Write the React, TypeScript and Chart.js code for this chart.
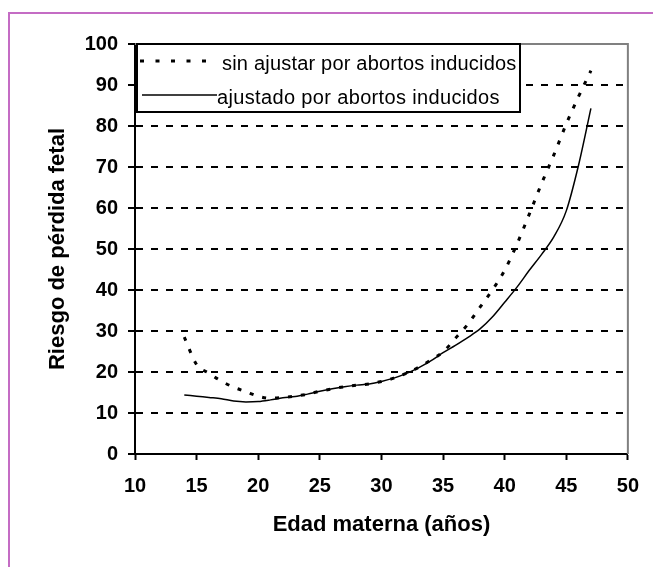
import React, { useEffect, useRef } from "react";
import { Chart, registerables } from "chart.js";

Chart.register(...registerables);

// ---- data ----
const ages = [14, 15, 16, 17, 18, 19, 20, 21, 22, 23, 24, 25, 26, 27, 28, 29, 30, 31, 32, 33, 34, 35, 36, 37, 38, 39, 40, 41, 42, 43, 44, 45, 46, 47];
const unadjusted = [28.5, 21.8, 19.7, 17.8, 16.3, 15.2, 14.1, 13.6, 13.8, 14.1, 14.6, 15.3, 15.9, 16.4, 16.8, 17.1, 17.7, 18.5, 19.7, 21.1, 22.9, 24.9, 28.2, 31.6, 35.8, 40, 44.8, 51.2, 58.5, 66, 73, 80.5, 87.2, 93.5];
const adjusted = [14.4, 14.1, 13.8, 13.5, 12.9, 12.7, 12.8, 13.2, 13.7, 14.0, 14.6, 15.3, 15.9, 16.4, 16.8, 17.1, 17.7, 18.5, 19.6, 21.0, 22.7, 24.7, 26.5, 28.4, 30.5, 33.4, 37, 40.7, 44.8, 48.7, 53, 59.3, 70.5, 84.3];
const xTicks = [10, 15, 20, 25, 30, 35, 40, 45, 50];
const yTicks = [0, 10, 20, 30, 40, 50, 60, 70, 80, 90, 100];
const legendLabels = ["sin ajustar por abortos inducidos", "ajustado por abortos inducidos"];
const xTitle = "Edad materna (años)";
const yTitle = "Riesgo de pérdida fetal";

const FONT = '"Liberation Sans", Arial, sans-serif';

const framePlugin = {
  id: "frameAndLegend",
  beforeDraw(chart: any) {
    const ctx = chart.ctx;
    ctx.save();
    ctx.fillStyle = "#ffffff";
    ctx.fillRect(0, 0, chart.width, chart.height);
    ctx.strokeStyle = "#c46cc4";
    ctx.lineWidth = 2;
    ctx.beginPath();
    ctx.moveTo(9, chart.height);
    ctx.lineTo(9, 13);
    ctx.lineTo(chart.width, 13);
    ctx.stroke();
    ctx.restore();
  },
  afterDatasetsDraw(chart: any) {
    const ctx = chart.ctx;
    const { left, top, right, bottom } = chart.chartArea;
    ctx.save();
    // plot area top/right border (gray)
    ctx.strokeStyle = "#808080";
    ctx.lineWidth = 2;
    ctx.beginPath();
    ctx.moveTo(left, top);
    ctx.lineTo(right, top);
    ctx.lineTo(right, bottom);
    ctx.stroke();

    // legend box
    const bx = left + 2;
    const by = top;
    const bw = 383;
    const bh = 68;
    ctx.fillStyle = "#ffffff";
    ctx.fillRect(bx, by, bw, bh);
    ctx.strokeStyle = "#000";
    ctx.lineWidth = 2;
    ctx.strokeRect(bx, by, bw, bh);

    const ds = chart.data.datasets;
    // row 1: dotted sample
    ctx.beginPath();
    ctx.setLineDash([4, 11.5]);
    ctx.lineWidth = 3;
    ctx.lineCap = "butt";
    ctx.moveTo(bx + 3, by + 17);
    ctx.lineTo(bx + 72, by + 17);
    ctx.stroke();
    ctx.setLineDash([]);
    // row 2: solid sample
    ctx.beginPath();
    ctx.lineWidth = 1.5;
    ctx.moveTo(bx + 5, by + 51);
    ctx.lineTo(bx + 80, by + 51);
    ctx.stroke();

    ctx.fillStyle = "#000";
    ctx.font = `20px ${FONT}`;
    ctx.textBaseline = "alphabetic";
    ctx.textAlign = "left";
    try {
      (ctx as any).letterSpacing = "0.2px";
    } catch (e) {}
    ctx.fillText(ds[0].label, bx + 85, by + 26);
    try {
      (ctx as any).letterSpacing = "0.35px";
    } catch (e) {}
    ctx.fillText(ds[1].label, bx + 80, by + 60);
    ctx.restore();
  },
};

export default function App() {
  const ref = useRef<HTMLCanvasElement | null>(null);

  useEffect(() => {
    if (!ref.current) return;
    const chart = new Chart(ref.current, {
      type: "line",
      data: {
        datasets: [
          {
            label: legendLabels[0],
            data: ages.map((a, i) => ({ x: a, y: unadjusted[i] })),
            borderColor: "#000",
            borderWidth: 3,
            borderDash: [4, 9],
            borderCapStyle: "butt",
            pointRadius: 0,
            cubicInterpolationMode: "monotone",
            fill: false,
          },
          {
            label: legendLabels[1],
            data: ages.map((a, i) => ({ x: a, y: adjusted[i] })),
            borderColor: "#000",
            borderWidth: 1.5,
            pointRadius: 0,
            cubicInterpolationMode: "monotone",
            fill: false,
          },
        ],
      },
      options: {
        responsive: false,
        animation: false,
        layout: { padding: { left: 0, top: 44, right: 23, bottom: 0 } },
        plugins: { legend: { display: false }, tooltip: { enabled: false } },
        scales: {
          x: {
            type: "linear",
            min: xTicks[0],
            max: xTicks[xTicks.length - 1],
            afterFit: (s: any) => {
              s.height = 113;
            },
            afterBuildTicks: (s: any) => {
              s.ticks = xTicks.map((v) => ({ value: v }));
            },
            grid: { drawOnChartArea: false, drawTicks: true, tickLength: 6, tickColor: "#000", tickWidth: 2 },
            border: { display: true, color: "#000", width: 2 },
            ticks: { color: "#000", font: { family: FONT, size: 20, weight: "bold" }, padding: 14, maxRotation: 0, autoSkip: false },
            title: { display: true, text: xTitle, color: "#000", font: { family: FONT, size: 22, weight: "bold" }, padding: { top: 0, bottom: 29 } },
          },
          y: {
            type: "linear",
            min: yTicks[0],
            max: yTicks[yTicks.length - 1],
            afterFit: (s: any) => {
              s.width = 135;
            },
            afterBuildTicks: (s: any) => {
              s.ticks = yTicks.map((v) => ({ value: v }));
            },
            grid: {
              color: (c: any) => (c.tick && (c.tick.value === 0 || c.tick.value === 100) ? "rgba(0,0,0,0)" : "#000"),
              lineWidth: 2,
              drawTicks: true,
              tickLength: 7,
              tickColor: "#000",
              tickWidth: 2,
            },
            border: { display: true, color: "#000", width: 2, dash: [7, 8] },
            ticks: { color: "#000", font: { family: FONT, size: 20, weight: "bold" }, padding: 10, autoSkip: false },
            title: { display: true, text: yTitle, color: "#000", font: { family: FONT, size: 22, weight: "bold" }, padding: { top: 45, bottom: 0 } },
          },
        },
      },
      plugins: [framePlugin],
    } as any);
    return () => chart.destroy();
  }, []);

  return (
    <div style={{ position: "absolute", left: 0, top: 0, width: 653, height: 567, background: "#fff" }}>
      <canvas ref={ref} width={653} height={567} style={{ display: "block" }} />
    </div>
  );
}
